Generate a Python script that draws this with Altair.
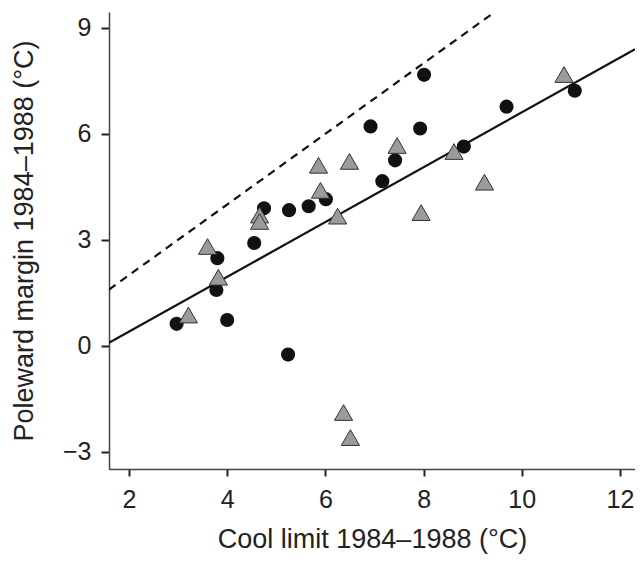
import altair as alt
import pandas as pd

# Circles (black)
circle_x = [2.97, 3.80, 3.78, 4.00, 4.55, 4.75, 5.26, 5.66, 5.24, 6.01,
            6.92, 8.01, 7.93, 7.42, 7.16, 8.82, 9.69, 11.08]
circle_y = [0.62, 2.48, 1.58, 0.73, 2.91, 3.89, 3.84, 3.95, -0.25, 4.15,
            6.21, 7.67, 6.15, 5.25, 4.66, 5.64, 6.77, 7.22]

# Triangles (grey)
tri_x = [3.21, 3.60, 3.82, 4.66, 4.66, 5.86, 5.90, 6.49, 6.25, 7.46,
         7.95, 8.62, 9.24, 10.86, 6.37, 6.51]
tri_y = [0.87, 2.81, 1.94, 3.70, 3.52, 5.11, 4.40, 5.22, 3.67, 5.67,
         3.77, 5.50, 4.63, 7.68, -1.89, -2.60]

# Fitted regression line and 1:1 line
fit_slope = 0.776
fit_intercept = -1.153
x_domain = [1.593, 12.306]
y_domain = [-3.49, 9.45]
x_ticks = [2, 4, 6, 8, 10, 12]
y_ticks = [-3, 0, 3, 6, 9]

circles = pd.DataFrame({"x": circle_x, "y": circle_y})
triangles = pd.DataFrame({"x": tri_x, "y": tri_y})
fit = pd.DataFrame({"x": x_domain,
                    "y": [fit_slope * v + fit_intercept for v in x_domain]})
one_to_one = pd.DataFrame({"x": [x_domain[0], y_domain[1]],
                           "y": [x_domain[0], y_domain[1]]})

FONT = "Liberation Sans"

xs = alt.Scale(domain=x_domain, nice=False, zero=False)
ys = alt.Scale(domain=y_domain, nice=False, zero=False)

x_axis = alt.Axis(values=x_ticks, title="Cool limit 1984–1988 (°C)",
                  tickSize=7, labelPadding=11, titlePadding=14)
y_axis = alt.Axis(values=y_ticks, title="Poleward margin 1984–1988 (°C)",
                  tickSize=8, labelPadding=10, titlePadding=24)

X = alt.X("x:Q", scale=xs, axis=x_axis)
Y = alt.Y("y:Q", scale=ys, axis=y_axis)

fit_line = alt.Chart(fit).mark_line(color="#111111", strokeWidth=2.2, clip=True).encode(x=X, y=Y)
dash_line = alt.Chart(one_to_one).mark_line(color="#111111", strokeWidth=2.2,
                                             strokeDash=[8, 6], clip=True).encode(x=X, y=Y)
circ = alt.Chart(circles).mark_point(shape="circle", filled=True, size=200,
                                     color="#111111", opacity=1).encode(x=X, y=Y)
tri = alt.Chart(triangles).mark_point(shape="triangle-up", filled=True, size=330,
                                      fill="#9b9b9b", stroke="#333333", strokeWidth=1,
                                      opacity=1).encode(x=X, y=Y)

chart = alt.layer(fit_line, dash_line, circ, tri).properties(
    width=526, height=457,
    autosize=alt.AutoSizeParams(type="none"),
    padding={"left": 101, "top": 4, "right": 0, "bottom": 86},
).configure_view(stroke=None).configure_axis(
    grid=False,
    domainColor="#444444", domainWidth=1.5,
    tickColor="#222222", tickWidth=2,
    labelFont=FONT, labelFontSize=25, labelColor="#222222",
    titleFont=FONT, titleFontSize=27, titleColor="#222222", titleFontWeight="normal",
)

chart.save("out.html", embed_options={"renderer": "svg", "actions": False})
